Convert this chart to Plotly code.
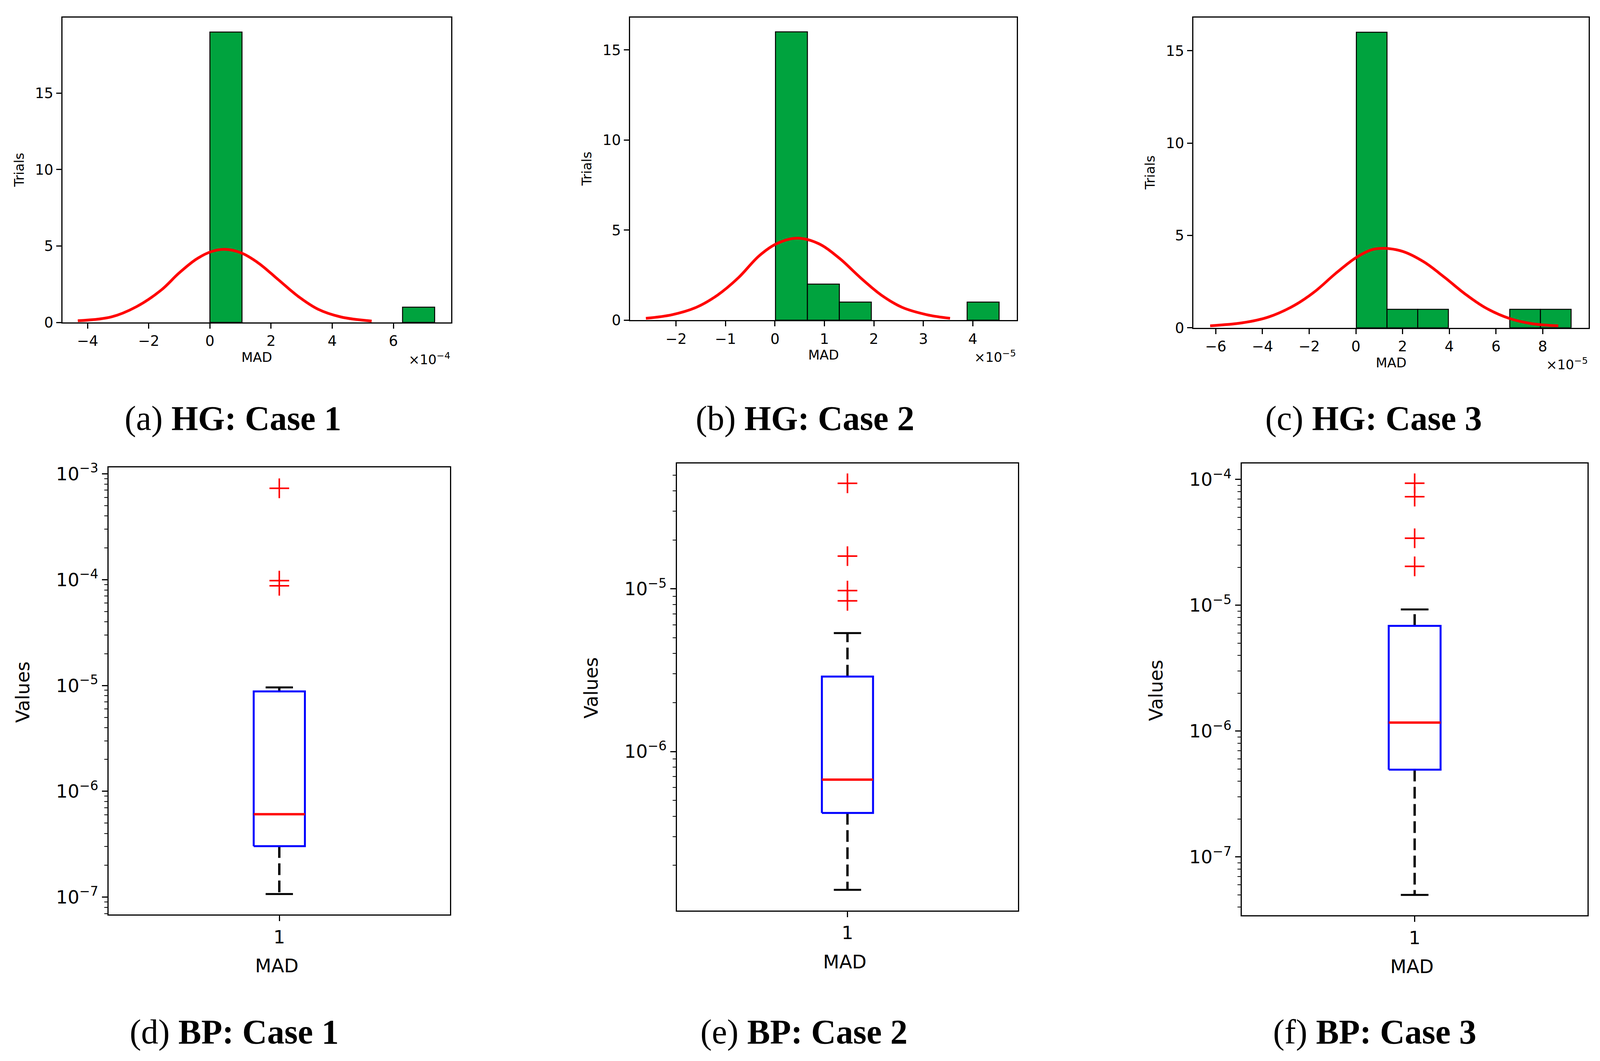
import math
import plotly.graph_objects as go

# ---- data ----
# histograms of MAD over 20 trials (x in axis units, see the x10^n offset text)
hg_edges_1 = [0.0, 1.05, 2.10, 3.15, 4.20, 5.25, 6.30, 7.35]  # x1e-4
hg_counts_1 = [19, 0, 0, 0, 0, 0, 1]
hg_edges_2 = [0.01, 0.656, 1.302, 1.948, 2.594, 3.24, 3.886, 4.532]  # x1e-5
hg_counts_2 = [16, 2, 1, 0, 0, 0, 1]
hg_edges_3 = [0.02, 1.334, 2.648, 3.962, 5.276, 6.59, 7.904, 9.218]  # x1e-5
hg_counts_3 = [16, 1, 1, 0, 0, 1, 1]

# fitted normal curves
fit_x_1 = [-4.32, -3.22, -2.40, -1.59, -1.02, -0.45, 0.04, 0.49, 1.02, 1.59, 2.24, 2.89, 3.54, 4.28, 5.29]
fit_y_1 = [0.11, 0.36, 1.03, 2.12, 3.21, 4.13, 4.63, 4.78, 4.55, 3.88, 2.79, 1.70, 0.86, 0.36, 0.09]
fit_x_2 = [-2.61, -2.08, -1.59, -1.16, -0.74, -0.32, 0.04, 0.46, 0.88, 1.30, 1.73, 2.15, 2.57, 3.07, 3.54]
fit_y_2 = [0.10, 0.30, 0.71, 1.39, 2.35, 3.57, 4.25, 4.55, 4.25, 3.44, 2.35, 1.39, 0.71, 0.30, 0.10]
fit_x_3 = [-6.24, -4.86, -3.75, -2.64, -1.75, -0.86, 0.02, 0.69, 1.24, 2.02, 2.91, 3.79, 4.68, 5.57, 6.57,
           7.56, 8.67]
fit_y_3 = [0.11, 0.27, 0.58, 1.21, 1.97, 2.95, 3.81, 4.23, 4.30, 4.13, 3.57, 2.74, 1.83, 1.07, 0.51, 0.22, 0.11]

hg_exponents = ["−4", "−5", "−5"]

# box plots (log scale)
bp_low = [1.07e-7, 1.41e-7, 5.0e-8]
bp_q1 = [3.03e-7, 4.19e-7, 4.94e-7]
bp_median = [6.07e-7, 6.71e-7, 1.17e-6]
bp_q3 = [8.8e-6, 2.89e-6, 6.86e-6]
bp_high = [9.6e-6, 5.35e-6, 9.27e-6]
bp_outliers = [
    [7.3e-4, 9.8e-5, 8.75e-5],
    [4.46e-5, 1.59e-5, 9.76e-6, 8.44e-6],
    [9.33e-5, 7.3e-5, 3.41e-5, 2.04e-5],
]

captions_top = ["(a) <b>HG: Case 1</b>", "(b) <b>HG: Case 2</b>", "(c) <b>HG: Case 3</b>"]
captions_bottom = ["(d) <b>BP: Case 1</b>", "(e) <b>BP: Case 2</b>", "(f) <b>BP: Case 3</b>"]

# ---- layout helpers ----
W, H = 4098, 2715


def fx(px):
    return px / W


def fy(px):
    return 1 - px / H


# axes boxes in pixels: left, right, top, bottom
hist_boxes = [(152, 1147, 19, 811), (1605, 2595, 19, 805), (3047, 4059, 19, 825)]
hist_xrange = [[-4.82, 7.89], [-2.93, 4.89], [-6.96, 9.97]]
hist_yrange = [[0, 19.95], [0, 16.8], [0, 16.8]]
hist_dtick = [2, 1, 2]

box_boxes = [(270, 1144, 1188, 2349), (1725, 2598, 1177, 2338), (3171, 4056, 1177, 2351)]
box_yrange = [[-7.165, -2.941], [-6.977, -4.228], [-7.464, -3.872]]

GREEN = "#00a33e"
FONT = "DejaVu Sans"
SERIF = "Liberation Serif"

fig = go.Figure()
layout = {}
annotations = []

# ---- histograms ----
hist_data = [
    (hg_edges_1, hg_counts_1, fit_x_1, fit_y_1),
    (hg_edges_2, hg_counts_2, fit_x_2, fit_y_2),
    (hg_edges_3, hg_counts_3, fit_x_3, fit_y_3),
]
for i, (edges, counts, cx, cy) in enumerate(hist_data):
    n = i + 1
    xa, ya = ("x", "y") if n == 1 else (f"x{n}", f"y{n}")
    centers = [(edges[k] + edges[k + 1]) / 2 for k in range(len(counts)) if counts[k] > 0]
    widths = [edges[k + 1] - edges[k] for k in range(len(counts)) if counts[k] > 0]
    heights = [c for c in counts if c > 0]
    fig.add_trace(go.Bar(
        x=centers, y=heights, width=widths,
        marker=dict(color=GREEN, line=dict(color="black", width=2.5)),
        xaxis=xa, yaxis=ya, showlegend=False,
    ))
    fig.add_trace(go.Scatter(
        x=cx, y=cy, mode="lines",
        line=dict(color="red", width=7, shape="spline"),
        xaxis=xa, yaxis=ya, showlegend=False,
    ))
    l, r, t, b = hist_boxes[i]
    axis_common = dict(
        showline=True, mirror=True, linecolor="black", linewidth=3,
        ticks="outside", ticklen=13, tickwidth=3, tickcolor="black",
        showgrid=False, zeroline=False,
        tickfont=dict(family=FONT, size=37, color="black"),
    )
    layout["xaxis" if n == 1 else f"xaxis{n}"] = dict(
        domain=[fx(l), fx(r)], anchor=ya, range=hist_xrange[i],
        tick0=0, dtick=hist_dtick[i], **axis_common)
    layout["yaxis" if n == 1 else f"yaxis{n}"] = dict(
        domain=[fy(b), fy(t)], anchor=xa, range=hist_yrange[i],
        tickvals=[0, 5, 10, 15], **axis_common)

    # axis titles and offset text
    annotations.append(dict(
        text="MAD", x=fx((l + r) / 2), y=fy(b + 90), xref="paper", yref="paper",
        xanchor="center", yanchor="middle", showarrow=False,
        font=dict(family=FONT, size=34, color="black")))
    annotations.append(dict(
        text="Trials", x=fx(l - 111), y=fy((t + b) / 2), xref="paper", yref="paper",
        xanchor="center", yanchor="middle", textangle=-90, showarrow=False,
        font=dict(family=FONT, size=34, color="black")))
    annotations.append(dict(
        text=f"×10<sup>{hg_exponents[i]}</sup>", x=fx(r), y=fy(b + 94), xref="paper", yref="paper",
        xanchor="right", yanchor="middle", showarrow=False,
        font=dict(family=FONT, size=34, color="black")))

# ---- box plots ----
half_box = 0.075
half_cap = 0.04
for i in range(3):
    n = i + 4
    xa, ya = f"x{n}", f"y{n}"
    x0, x1 = 1 - half_box, 1 + half_box
    # whiskers
    fig.add_trace(go.Scatter(
        x=[1, 1, None, 1, 1], y=[bp_q1[i], bp_low[i], None, bp_q3[i], bp_high[i]],
        mode="lines", line=dict(color="black", width=6, dash="30px,14px"),
        xaxis=xa, yaxis=ya, showlegend=False))
    # caps
    fig.add_trace(go.Scatter(
        x=[1 - half_cap, 1 + half_cap, None, 1 - half_cap, 1 + half_cap],
        y=[bp_low[i], bp_low[i], None, bp_high[i], bp_high[i]],
        mode="lines", line=dict(color="black", width=5),
        xaxis=xa, yaxis=ya, showlegend=False))
    # box
    fig.add_trace(go.Scatter(
        x=[x0, x1, x1, x0, x0], y=[bp_q1[i], bp_q1[i], bp_q3[i], bp_q3[i], bp_q1[i]],
        mode="lines", line=dict(color="blue", width=5),
        xaxis=xa, yaxis=ya, showlegend=False))
    # median
    fig.add_trace(go.Scatter(
        x=[x0, x1], y=[bp_median[i], bp_median[i]],
        mode="lines", line=dict(color="red", width=6),
        xaxis=xa, yaxis=ya, showlegend=False))
    # outliers
    fig.add_trace(go.Scatter(
        x=[1] * len(bp_outliers[i]), y=bp_outliers[i], mode="markers",
        marker=dict(symbol="cross-thin", size=36, color="red", line=dict(color="red", width=4)),
        xaxis=xa, yaxis=ya, showlegend=False))

    l, r, t, b = box_boxes[i]
    lo, hi = box_yrange[i]
    majors = [e for e in range(-9, 0) if lo <= e <= hi]
    minors = [k * 10 ** e for e in range(-9, 0) for k in range(2, 10)
              if lo <= e + math.log10(k) <= hi]
    axis_common = dict(
        showline=True, mirror=True, linecolor="black", linewidth=3,
        ticks="outside", ticklen=14, tickwidth=3, tickcolor="black",
        showgrid=False, zeroline=False,
        tickfont=dict(family=FONT, size=47, color="black"),
    )
    layout[f"xaxis{n}"] = dict(
        domain=[fx(l), fx(r)], anchor=ya, range=[0.5, 1.5],
        tickvals=[1], ticktext=["1"], **axis_common)
    layout[f"yaxis{n}"] = dict(
        domain=[fy(b), fy(t)], anchor=xa, type="log", range=[lo, hi],
        tickvals=[10.0 ** e for e in majors],
        ticktext=[f"10<sup>−{-e}</sup>" for e in majors],
        minor=dict(tickvals=minors, ticks="outside", ticklen=8, tickwidth=2, tickcolor="black"),
        **axis_common)

    annotations.append(dict(
        text="MAD", x=fx((l + r) / 2 - 7), y=fy(b + 133), xref="paper", yref="paper",
        xanchor="center", yanchor="middle", showarrow=False,
        font=dict(family=FONT, size=48, color="black")))
    annotations.append(dict(
        text="Values", x=fx(l - 220), y=fy((t + b) / 2 + 3), xref="paper", yref="paper",
        xanchor="center", yanchor="middle", textangle=-90, showarrow=False,
        font=dict(family=FONT, size=48, color="black")))

# ---- captions ----
cap_x = [588, 2053, 3508]
cap_x_bottom = [591, 2050, 3511]
for i in range(3):
    annotations.append(dict(
        text=captions_top[i], x=fx(cap_x[i]), y=fy(1060), xref="paper", yref="paper",
        xanchor="center", yanchor="middle", showarrow=False,
        font=dict(family=SERIF, size=88, color="black")))
    annotations.append(dict(
        text=captions_bottom[i], x=fx(cap_x_bottom[i]), y=fy(2654), xref="paper", yref="paper",
        xanchor="center", yanchor="middle", showarrow=False,
        font=dict(family=SERIF, size=88, color="black")))

fig.update_layout(
    width=W, height=H,
    margin=dict(l=0, r=0, t=0, b=0),
    paper_bgcolor="white", plot_bgcolor="white",
    showlegend=False,
    annotations=annotations,
    **layout,
)

fig.write_html("out.html")
